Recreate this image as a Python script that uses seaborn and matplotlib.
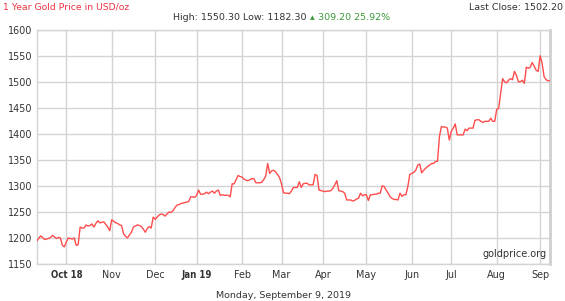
import numpy as np
import pandas as pd
import matplotlib
matplotlib.use("Agg")
import matplotlib.pyplot as plt
import seaborn as sns

# ---- data (one value per weekday, 10 Sep 2018 .. 9 Sep 2019) ----
start_date = "2018-09-10"
end_date = "2019-09-09"
prices = [
    1194, 1199, 1204, 1201, 1197,
    1198, 1199, 1201, 1205, 1202,
    1199, 1201, 1200, 1186, 1183,
    1192, 1200, 1199, 1198, 1200,
    1186, 1187, 1221, 1219, 1219,
    1225, 1223, 1224, 1227, 1221,
    1228, 1233, 1229, 1230, 1231,
    1226, 1221, 1214, 1235, 1232,
    1229, 1228, 1225, 1224, 1208,
    1203, 1200, 1206, 1211, 1221,
    1223, 1225, 1224, 1222, 1217,
    1211, 1218, 1222, 1219, 1240,
    1236, 1240, 1244, 1246, 1245,
    1242, 1246, 1250, 1249, 1252,
    1258, 1263, 1264, 1266, 1267,
    1268, 1269, 1270, 1279, 1279,
    1278, 1282, 1292, 1284, 1284,
    1285, 1288, 1285, 1288, 1290,
    1286, 1290, 1292, 1282, 1283,
    1282, 1282, 1282, 1279, 1304,
    1304, 1312, 1320, 1318, 1317,
    1313, 1311, 1310, 1312, 1314,
    1314, 1306, 1306, 1306, 1307,
    1312, 1319, 1343, 1324, 1329,
    1330, 1327, 1322, 1316, 1304,
    1287, 1286, 1286, 1285, 1290,
    1297, 1297, 1297, 1308, 1297,
    1304, 1305, 1305, 1302, 1302,
    1302, 1322, 1320, 1292, 1291,
    1290, 1289, 1290, 1290, 1291,
    1295, 1302, 1310, 1291, 1290,
    1289, 1286, 1273, 1273, 1273,
    1271, 1272, 1275, 1276, 1286,
    1281, 1283, 1283, 1272, 1283,
    1283, 1284, 1284, 1286, 1286,
    1300, 1299, 1292, 1286, 1279,
    1276, 1274, 1274, 1273, 1286,
    1280, 1283, 1283, 1299, 1322,
    1324, 1326, 1330, 1340, 1342,
    1325, 1330, 1334, 1337, 1340,
    1343, 1343, 1347, 1347, 1395,
    1414, 1413, 1413, 1411, 1388,
    1405, 1411, 1419, 1398, 1398,
    1398, 1398, 1409, 1406, 1411,
    1411, 1411, 1426, 1427, 1427,
    1424, 1422, 1424, 1424, 1424,
    1430, 1424, 1424, 1447, 1449,
    1478, 1506, 1500, 1498, 1503,
    1506, 1504, 1520, 1512, 1500,
    1500, 1503, 1497, 1528, 1526,
    1528, 1537, 1530, 1522, 1520,
    1550, 1536, 1510, 1504, 1502,
    1502.2,
]
month_labels = ["Oct 18", "Nov", "Dec", "Jan 19", "Feb", "Mar", "Apr",
                "May", "Jun", "Jul", "Aug", "Sep"]
bold_labels = ["Oct 18", "Jan 19"]
y_ticks = [1150, 1200, 1250, 1300, 1350, 1400, 1450, 1500, 1550, 1600]

title_text = "1 Year Gold Price in USD/oz"
hl_text = "High: 1550.30 Low: 1182.30"
change_text = "309.20 25.92%"
last_close_text = "Last Close: 1502.20"
date_text = "Monday, September 9, 2019"
source_text = "goldprice.org"

# ---- frame ----
dates = pd.bdate_range(start_date, end_date)
df = pd.DataFrame({"date": dates, "price": prices})
df["pos"] = np.arange(len(df))

# month start positions (first weekday of each month after the first)
month_key = df["date"].dt.to_period("M")
first_idx = df.groupby(month_key)["pos"].min().values[1:]

sns.set_theme(style="white")
plt.rcParams["font.family"] = ["DejaVu Sans"]

W, H = 565, 301
fig = plt.figure(figsize=(W / 100, H / 100), dpi=100)
L, R, T, B = 36.7, 550, 29.7, 264
ax = fig.add_axes([L / W, 1 - B / H, (R - L) / W, (B - T) / H])

sns.lineplot(data=df, x="pos", y="price", ax=ax, color="#ff4d4d",
             linewidth=1.0, zorder=3)

ax.set_xlim(0, len(df) - 1)
ax.set_ylim(1150, 1600)
ax.set_yticks(y_ticks)
ax.set_yticklabels([str(v) for v in y_ticks])
ax.set_xticks(first_idx)
ax.set_xticklabels(month_labels)
ax.tick_params(axis="both", length=0, labelsize=6.9, colors="#333333")
ax.tick_params(axis="x", pad=4)
ax.tick_params(axis="y", pad=3)
for lab in ax.get_xticklabels():
    if lab.get_text() in bold_labels:
        lab.set_fontweight("bold")
        lab.set_fontstretch("condensed")
ax.set_xlabel("")
ax.set_ylabel("")
ax.grid(True, color="#d4d4d4", linewidth=1.0)
for side in ["left", "bottom", "top"]:
    ax.spines[side].set_color("#d4d4d4")
    ax.spines[side].set_linewidth(1.0)
ax.spines["right"].set_color("#cfcfcf")
ax.spines["right"].set_linewidth(2.0)

ax.text(0.993, 0.02, source_text, transform=ax.transAxes, ha="right",
        va="bottom", fontsize=7.0, color="#333333")

fs = 6.8
fig.text(3 / W, 1 - 7 / H, title_text, ha="left", va="center",
         fontsize=6.7, color="#ee3344")
fig.text(563 / W, 1 - 7 / H, last_close_text, ha="right", va="center",
         fontsize=fs, color="#333333")
fig.text(173 / W, 1 - 17.5 / H, hl_text, ha="left", va="center",
         fontsize=fs, color="#333333")
fig.text(310 / W, 1 - 17.5 / H, "\u25b4", ha="left", va="center",
         fontsize=fs, color="#3a9a3a")
fig.text(318 / W, 1 - 17.5 / H, change_text, ha="left", va="center",
         fontsize=fs, color="#3a9a3a")
fig.text(283 / W, 1 - 295 / H, date_text, ha="center", va="center",
         fontsize=fs, color="#333333")

fig.savefig("out.png", dpi=100, facecolor="white")
